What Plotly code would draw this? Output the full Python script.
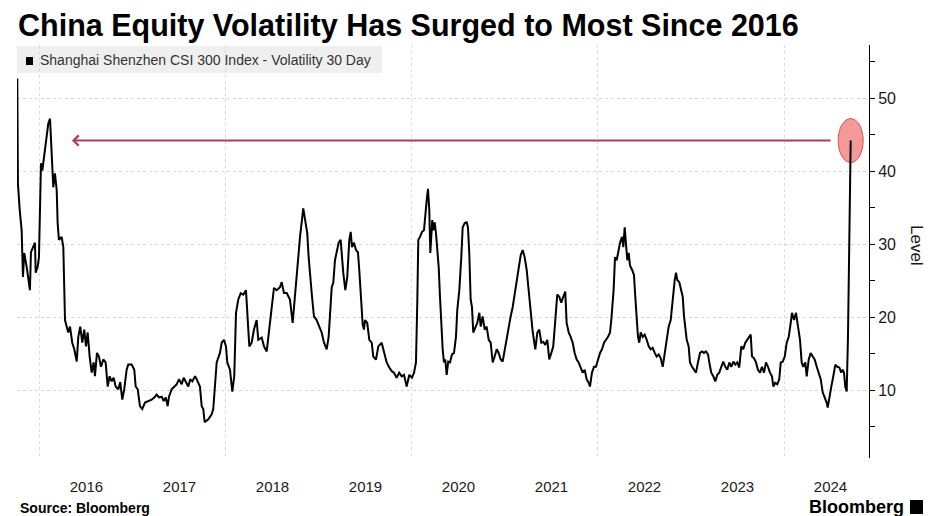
import plotly.graph_objects as go

# ---- data (decimal year, 30-day volatility level) ----
years = [
    2015.756, 2015.763, 2015.782, 2015.792, 2015.803, 2015.817, 2015.831, 2015.857, 2015.892, 2015.903,
    2015.928, 2015.946, 2015.954, 2015.975, 2015.989, 2016.011, 2016.025, 2016.046, 2016.072, 2016.089,
    2016.108, 2016.118, 2016.132, 2016.143, 2016.161, 2016.180, 2016.190, 2016.204, 2016.233, 2016.251,
    2016.269, 2016.287, 2016.304, 2016.323, 2016.347, 2016.369, 2016.395, 2016.412, 2016.433, 2016.455,
    2016.476, 2016.495, 2016.513, 2016.534, 2016.556, 2016.577, 2016.591, 2016.613, 2016.634, 2016.656,
    2016.681, 2016.706, 2016.728, 2016.749, 2016.771, 2016.792, 2016.814, 2016.842, 2016.863, 2016.885,
    2016.906, 2016.932, 2016.949, 2016.986, 2017.014, 2017.029, 2017.051, 2017.075, 2017.100, 2017.129,
    2017.165, 2017.201, 2017.229, 2017.255, 2017.280, 2017.309, 2017.330, 2017.352, 2017.373, 2017.387,
    2017.416, 2017.444, 2017.470, 2017.495, 2017.524, 2017.545, 2017.567, 2017.595, 2017.616, 2017.638,
    2017.667, 2017.685, 2017.720, 2017.739, 2017.756, 2017.771, 2017.810, 2017.846, 2017.863, 2017.882,
    2017.900, 2017.935, 2017.954, 2017.978, 2018.000, 2018.014, 2018.043, 2018.068, 2018.089, 2018.108,
    2018.132, 2018.158, 2018.186, 2018.215, 2018.229, 2018.251, 2018.276, 2018.301, 2018.330, 2018.347,
    2018.384, 2018.409, 2018.438, 2018.459, 2018.491, 2018.516, 2018.545, 2018.581, 2018.599, 2018.624,
    2018.653, 2018.688, 2018.717, 2018.742, 2018.767, 2018.796, 2018.831, 2018.849, 2018.874, 2018.889,
    2018.911, 2018.925, 2018.946, 2018.975, 2019.003, 2019.029, 2019.054, 2019.083, 2019.104, 2019.118,
    2019.137, 2019.154, 2019.172, 2019.190, 2019.212, 2019.233, 2019.247, 2019.261, 2019.283, 2019.304,
    2019.326, 2019.341, 2019.355, 2019.376, 2019.398, 2019.419, 2019.433, 2019.448, 2019.470, 2019.484,
    2019.495, 2019.519, 2019.541, 2019.567, 2019.584, 2019.613, 2019.638, 2019.674, 2019.699, 2019.728,
    2019.756, 2019.782, 2019.806, 2019.835, 2019.863, 2019.889, 2019.914, 2019.943, 2019.971, 2020.000,
    2020.022, 2020.043, 2020.057, 2020.068, 2020.086, 2020.108, 2020.129, 2020.143, 2020.158, 2020.172,
    2020.186, 2020.197, 2020.208, 2020.218, 2020.229, 2020.244, 2020.258, 2020.272, 2020.287, 2020.301,
    2020.315, 2020.330, 2020.344, 2020.358, 2020.373, 2020.390, 2020.409, 2020.430, 2020.452, 2020.473,
    2020.487, 2020.509, 2020.530, 2020.545, 2020.567, 2020.588, 2020.602, 2020.616, 2020.631, 2020.645,
    2020.659, 2020.681, 2020.702, 2020.724, 2020.739, 2020.760, 2020.782, 2020.803, 2020.825, 2020.846,
    2020.868, 2020.889, 2020.911, 2020.932, 2020.954, 2020.975, 2020.997, 2021.018, 2021.040, 2021.061,
    2021.083, 2021.104, 2021.126, 2021.147, 2021.169, 2021.190, 2021.212, 2021.233, 2021.255, 2021.269,
    2021.298, 2021.326, 2021.348, 2021.369, 2021.390, 2021.412, 2021.433, 2021.455, 2021.476, 2021.498,
    2021.519, 2021.541, 2021.562, 2021.584, 2021.605, 2021.627, 2021.648, 2021.663, 2021.685, 2021.706,
    2021.728, 2021.749, 2021.771, 2021.792, 2021.814, 2021.835, 2021.857, 2021.878, 2021.900, 2021.914,
    2021.935, 2021.957, 2021.978, 2022.000, 2022.022, 2022.043, 2022.065, 2022.086, 2022.108, 2022.129,
    2022.143, 2022.168, 2022.183, 2022.201, 2022.218, 2022.237, 2022.258, 2022.272, 2022.287, 2022.301,
    2022.315, 2022.330, 2022.344, 2022.366, 2022.387, 2022.401, 2022.416, 2022.430, 2022.444, 2022.459,
    2022.481, 2022.502, 2022.524, 2022.545, 2022.567, 2022.588, 2022.610, 2022.631, 2022.653, 2022.674,
    2022.696, 2022.717, 2022.739, 2022.760, 2022.782, 2022.803, 2022.825, 2022.839, 2022.853, 2022.874,
    2022.896, 2022.911, 2022.925, 2022.939, 2022.954, 2022.975, 2022.989, 2023.011, 2023.032, 2023.054,
    2023.075, 2023.097, 2023.118, 2023.140, 2023.161, 2023.183, 2023.197, 2023.218, 2023.240, 2023.261,
    2023.283, 2023.304, 2023.326, 2023.347, 2023.369, 2023.390, 2023.412, 2023.433, 2023.455, 2023.476,
    2023.498, 2023.519, 2023.541, 2023.562, 2023.584, 2023.605, 2023.627, 2023.642, 2023.656, 2023.677,
    2023.699, 2023.720, 2023.742, 2023.763, 2023.785, 2023.806, 2023.828, 2023.849, 2023.871, 2023.885,
    2023.906, 2023.928, 2023.949, 2023.965, 2023.986, 2024.008, 2024.029, 2024.051, 2024.072, 2024.086,
    2024.108, 2024.129, 2024.151, 2024.172, 2024.190, 2024.208, 2024.229, 2024.244, 2024.266, 2024.287,
    2024.309, 2024.330, 2024.352, 2024.373, 2024.395, 2024.416, 2024.438, 2024.459, 2024.470, 2024.487,
    2024.509, 2024.530, 2024.552, 2024.573, 2024.595, 2024.616, 2024.631, 2024.645, 2024.659, 2024.674,
    2024.688, 2024.702, 2024.717,
]
vol = [
    52.7, 38.3, 34.7, 32.9, 31.9, 25.5, 28.8, 26.9, 23.7, 28.9,
    29.6, 30.2, 26.1, 26.9, 28.2, 41.1, 40.1, 42.4, 45.2, 46.5,
    47.2, 44.6, 40.5, 37.8, 39.7, 37.4, 32.9, 30.6, 31.0, 29.6,
    19.6, 18.7, 17.9, 18.7, 16.5, 15.6, 13.9, 17.3, 18.7, 16.5,
    18.3, 16.0, 17.9, 14.6, 12.4, 13.8, 11.9, 15.1, 14.6, 13.2,
    14.2, 13.8, 10.5, 11.9, 11.2, 11.7, 10.5, 10.1, 11.1, 8.7,
    10.1, 12.8, 13.5, 13.5, 12.8, 10.5, 10.1, 7.8, 7.4, 8.3,
    8.5, 8.7, 9.0, 9.4, 9.0, 9.1, 8.5, 9.0, 7.8, 9.1,
    10.1, 10.5, 10.8, 11.5, 10.8, 11.7, 11.1, 10.5, 11.5, 11.2,
    11.9, 11.5, 10.5, 7.8, 7.4, 5.6, 6.0, 6.7, 7.4, 11.0,
    13.8, 15.1, 16.5, 16.9, 16.0, 13.8, 12.8, 9.8, 11.9, 20.6,
    22.4, 23.3, 23.1, 23.7, 20.1, 16.0, 16.5, 18.3, 19.6, 16.9,
    17.2, 16.0, 15.3, 17.9, 21.0, 24.0, 23.7, 24.1, 24.8, 23.3,
    23.3, 22.4, 19.2, 23.3, 26.9, 31.0, 34.9, 33.7, 31.5, 28.2,
    24.1, 22.8, 20.1, 19.6, 18.7, 17.9, 16.5, 15.6, 17.3, 20.1,
    24.1, 24.7, 27.8, 28.9, 30.2, 30.6, 28.2, 26.1, 23.7, 25.5,
    30.6, 31.7, 29.6, 30.2, 29.2, 28.9, 26.5, 23.3, 19.0, 18.3,
    19.6, 19.2, 16.9, 16.5, 14.6, 14.2, 16.0, 16.5, 15.1, 13.8,
    13.1, 12.6, 12.4, 11.7, 12.4, 11.9, 12.1, 10.5, 12.1, 11.7,
    12.4, 13.8, 22.0, 30.6, 31.0, 31.7, 31.9, 34.2, 36.0, 37.6,
    34.7, 28.8, 31.0, 33.3, 31.9, 33.0, 31.5, 29.2, 26.9, 22.8,
    18.7, 15.6, 13.8, 14.2, 12.1, 13.9, 13.8, 14.9, 15.1, 17.3,
    21.0, 23.7, 28.2, 32.3, 32.9, 33.0, 32.3, 28.8, 22.4, 21.4,
    17.9, 18.7, 19.2, 20.6, 18.7, 20.1, 18.3, 18.7, 16.9, 16.5,
    13.8, 14.6, 15.6, 15.1, 14.2, 13.9, 15.6, 16.9, 18.7, 20.1,
    21.4, 23.3, 25.1, 26.9, 28.5, 29.2, 28.2, 26.5, 23.7, 22.0,
    18.0, 15.6, 17.9, 18.3, 16.5, 16.6, 16.2, 16.9, 14.2, 15.1,
    16.0, 19.6, 23.1, 22.8, 22.0, 22.8, 23.5, 19.2, 17.9, 17.3,
    16.5, 15.1, 14.2, 13.8, 13.2, 12.4, 12.8, 11.5, 11.0, 10.5,
    12.4, 13.2, 13.2, 14.2, 15.1, 15.6, 16.5, 16.9, 17.3, 17.9,
    19.6, 23.7, 28.2, 27.8, 29.2, 30.2, 31.0, 29.6, 32.3, 29.6,
    27.8, 28.8, 27.1, 26.5, 25.8, 22.8, 20.1, 17.3, 16.5, 17.9,
    17.3, 17.6, 16.9, 16.0, 15.6, 15.8, 15.1, 14.6, 14.9, 14.4,
    13.2, 15.1, 16.5, 18.7, 19.6, 22.8, 25.1, 26.1, 25.1, 24.8,
    23.7, 22.8, 20.1, 18.3, 16.9, 16.0, 13.8, 13.2, 12.8, 12.4,
    13.8, 15.1, 15.3, 15.1, 15.3, 14.9, 13.8, 12.4, 11.9, 11.2,
    12.1, 12.4, 13.2, 13.9, 13.2, 12.8, 13.8, 13.2, 13.9, 13.5,
    13.8, 13.1, 16.0, 15.6, 16.5, 16.9, 17.3, 17.6, 14.6, 14.4,
    13.8, 12.8, 12.4, 13.2, 12.4, 13.8, 13.2, 12.4, 11.9, 10.5,
    11.0, 10.8, 11.5, 13.8, 13.9, 14.6, 16.5, 17.3, 19.2, 20.6,
    19.6, 20.6, 18.7, 16.9, 13.8, 13.2, 13.8, 11.9, 14.2, 15.1,
    14.6, 14.2, 13.2, 12.4, 11.5, 9.7, 9.1, 8.3, 7.6, 9.1,
    10.5, 11.9, 13.5, 13.2, 13.1, 12.4, 12.8, 12.4, 10.5, 9.8,
    17.3, 30.2, 44.2,
]

year_labels = ["2016", "2017", "2018", "2019", "2020", "2021", "2022", "2023", "2024"]
year_label_pos = [2016.5, 2017.5, 2018.5, 2019.5, 2020.5, 2021.5, 2022.5, 2023.5, 2024.5]
grid_years = [2016, 2018, 2020, 2022, 2024]
y_major = [10, 20, 30, 40, 50]
y_minor = [5, 15, 25, 35, 45, 55]

series_name = "Shanghai Shenzhen CSI 300 Index - Volatility 30 Day"
title_text = "China Equity Volatility Has Surged to Most Since 2016"

FONT = "Liberation Sans, Arial, sans-serif"

# the page places the figure 8px in from the top-left corner; compensate for it
OFF = 8

fig = go.Figure()
fig.add_trace(go.Scatter(
    x=years, y=vol, mode="lines", name=series_name,
    line=dict(color="#000000", width=2), showlegend=False,
))

last_x, last_y = years[-1], vol[-1]

fig.update_layout(
    width=934, height=516, autosize=False,
    margin=dict(l=17 - OFF, r=934 - (869 - OFF), t=45 - OFF, b=516 - (458 - OFF)),
    paper_bgcolor="white", plot_bgcolor="white",
    font=dict(family=FONT, color="#1a1a1a"),
    title=dict(text="<b>" + title_text + "</b>", x=(18 - OFF) / 934, xanchor="left",
               y=1 - (25 - OFF) / 516, yanchor="middle", xref="container", yref="container",
               font=dict(family=FONT, size=30.5, color="#000000")),
    xaxis=dict(range=[2015.753, 2024.914], tickmode="array", tickvals=year_label_pos,
               ticktext=year_labels, showgrid=False, zeroline=False, showline=False,
               ticks="", ticklabelstandoff=18, tickfont=dict(size=15, color="#1a1a1a"),
               minor=dict(tickmode="array", tickvals=grid_years, showgrid=True,
                          gridcolor="#dcdcdc", griddash="dot", gridwidth=1, ticks="")),
    yaxis=dict(side="right", range=[0.7, 57.3], tickmode="array", tickvals=y_major,
               showgrid=True, gridcolor="#d8d8d8", griddash="dot", gridwidth=1,
               zeroline=False, showline=True, linecolor="#000000", linewidth=1,
               ticks="outside", ticklen=5, tickcolor="#000000",
               tickfont=dict(size=16, color="#1a1a1a"),
               minor=dict(tickmode="array", tickvals=y_minor, ticks="outside", ticklen=5,
                          tickcolor="#000000", showgrid=False)),
)

shapes = [
    # legend box
    dict(type="rect", xref="paper", yref="paper", x0=0, x1=(382 - 17) / 852,
         y0=(458 - 73) / 413, y1=(458 - 46) / 413, fillcolor="#efefef", line=dict(width=0),
         layer="below"),
    dict(type="rect", xref="paper", yref="paper", x0=(26 - 17) / 852, x1=(33 - 17) / 852,
         y0=(458 - 65) / 413, y1=(458 - 57) / 413, fillcolor="#000000", line=dict(width=0)),
    # highlight ellipse around the latest value
    dict(type="circle", xref="x", yref="y", xsizemode="pixel", ysizemode="pixel",
         xanchor=last_x, yanchor=last_y, x0=-12.5, x1=12.5, y0=-22, y1=22,
         fillcolor="rgba(240,128,128,0.8)", line=dict(color="#d9534f", width=1), layer="below"),
    # Bloomberg icon
    dict(type="rect", xref="paper", yref="paper", x0=(910 - 17) / 852, x1=(923 - 17) / 852,
         y0=(458 - 514) / 413, y1=(458 - 500) / 413, fillcolor="#000000", line=dict(width=0)),
]
fig.update_layout(shapes=shapes)

annotations = [
    dict(text=series_name, xref="paper", yref="paper", x=(38 - 17) / 852, y=(458 - 60) / 413,
         xanchor="left", yanchor="middle", showarrow=False,
         font=dict(family=FONT, size=14, color="#333333")),
    dict(text="Level", xref="paper", yref="paper", x=(916 - 17) / 852, y=(458 - 245) / 413,
         xanchor="center", yanchor="middle", textangle=90, showarrow=False,
         font=dict(family=FONT, size=17, color="#1a1a1a")),
    dict(text="<b>Source: Bloomberg</b>", xref="paper", yref="paper", x=(18 - 17) / 852,
         y=(458 - 508) / 413, xanchor="left", yanchor="middle", showarrow=False,
         font=dict(family=FONT, size=14, color="#000000")),
    dict(text="<b>Bloomberg</b>", xref="paper", yref="paper", x=(906 - 17) / 852,
         y=(458 - 507) / 413, xanchor="right", yanchor="middle", showarrow=False,
         font=dict(family=FONT, size=18, color="#000000")),
    # arrow pointing back to the 2016 peak
    dict(x=2016.344, y=last_y, ax=2024.516, ay=last_y, xref="x", yref="y", axref="x", ayref="y",
         text="", showarrow=True, arrowhead=4, arrowsize=1, arrowwidth=2, arrowcolor="#b23a5b"),
]
fig.update_layout(annotations=annotations)

fig.write_html("out.html")
